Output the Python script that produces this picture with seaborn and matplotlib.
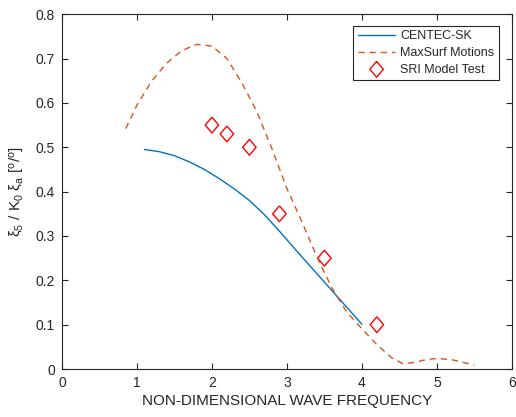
import numpy as np
import pandas as pd
import matplotlib
matplotlib.use("Agg")
import matplotlib.pyplot as plt
import seaborn as sns

# CENTEC-SK pitch response
centec_x = [1.1, 1.3, 1.5, 1.7, 1.9, 2.1, 2.3, 2.5, 2.7, 2.9, 3.1, 3.3, 3.5, 3.7, 3.9, 4.0]
centec_y = [0.495, 0.490, 0.481, 0.467, 0.450, 0.429, 0.406, 0.380, 0.348, 0.311, 0.272,
            0.234, 0.196, 0.158, 0.120, 0.101]

# MaxSurf Motions pitch response
maxsurf_x = [0.85, 1.0, 1.2, 1.4, 1.6, 1.8, 2.0, 2.2, 2.4, 2.6, 2.8, 3.0, 3.2, 3.4, 3.6,
             3.8, 4.0, 4.2, 4.4, 4.55, 4.7, 4.85, 5.0, 5.2, 5.4, 5.5]
maxsurf_y = [0.542, 0.595, 0.650, 0.690, 0.718, 0.732, 0.728, 0.700, 0.645, 0.580, 0.497,
             0.407, 0.332, 0.253, 0.183, 0.128, 0.091, 0.055, 0.025, 0.012, 0.015, 0.021,
             0.024, 0.021, 0.013, 0.009]

# SRI model test measurements
sri_x = [2.0, 2.2, 2.5, 2.9, 3.5, 4.2]
sri_y = [0.55, 0.53, 0.50, 0.35, 0.25, 0.10]

x_ticks = [0, 1, 2, 3, 4, 5, 6]
y_ticks = [0, 0.1, 0.2, 0.3, 0.4, 0.5, 0.6, 0.7, 0.8]

sns.set_theme(style="white")
plt.rcParams["font.family"] = ["Liberation Sans", "DejaVu Sans"]
plt.rcParams["mathtext.fontset"] = "custom"
plt.rcParams["mathtext.rm"] = "Liberation Sans"
plt.rcParams["mathtext.it"] = "Liberation Sans:italic"
plt.rcParams["mathtext.default"] = "regular"

axis_col = "#262626"
blue = "#0072BD"
orange = "#D95319"

fig = plt.figure(figsize=(5.16, 4.17), dpi=100)
ax = fig.add_axes([0.120, 0.115, 0.872, 0.851])

df_c = pd.DataFrame({"x": centec_x, "y": centec_y})
df_m = pd.DataFrame({"x": maxsurf_x, "y": maxsurf_y})
df_s = pd.DataFrame({"x": sri_x, "y": sri_y})

sns.lineplot(data=df_c, x="x", y="y", ax=ax, color=blue, lw=1.0, label="CENTEC-SK",
             estimator=None, sort=False)
sns.lineplot(data=df_m, x="x", y="y", ax=ax, color=orange, lw=1.0, label="MaxSurf Motions",
             estimator=None, sort=False, dashes=False)
ax.lines[-1].set_dashes([4.5, 3.5])

diamond = [(0, 1), (0.85, 0), (0, -1), (-0.85, 0), (0, 1)]
sns.scatterplot(data=df_s, x="x", y="y", ax=ax, marker=diamond, s=130,
                facecolor="none", edgecolor="#FF0000", linewidth=1.0,
                label="SRI Model Test")

ax.set_xlim(0, 6)
ax.set_ylim(0, 0.8)
ax.set_xticks(x_ticks)
ax.set_yticks(y_ticks)
ax.set_xticklabels([str(t) for t in x_ticks])
ax.set_yticklabels(["0"] + [f"{t:.1f}" for t in y_ticks[1:]])
ax.tick_params(direction="in", length=4, width=0.8, colors=axis_col, labelsize=10,
               top=True, right=True, bottom=True, left=True, pad=5)
for sp in ax.spines.values():
    sp.set_visible(True)
    sp.set_color(axis_col)
    sp.set_linewidth(0.8)

ax.set_xlabel("NON-DIMENSIONAL WAVE FREQUENCY", fontsize=11, color=axis_col, labelpad=3)
ax.set_ylabel(r"$\xi_5\ /\ K_0\ \xi_a\ [^o/^o]$", fontsize=11, color=axis_col, labelpad=6)

leg = ax.legend(loc="upper right", bbox_to_anchor=(0.985, 0.985), fontsize=9,
                frameon=True, fancybox=False, edgecolor=axis_col, framealpha=1,
                borderpad=0.35, labelspacing=0.38, handlelength=3.0, handletextpad=0.4)
leg.get_frame().set_linewidth(0.8)
for t in leg.get_texts():
    t.set_color(axis_col)

fig.savefig("out.png", dpi=100)
